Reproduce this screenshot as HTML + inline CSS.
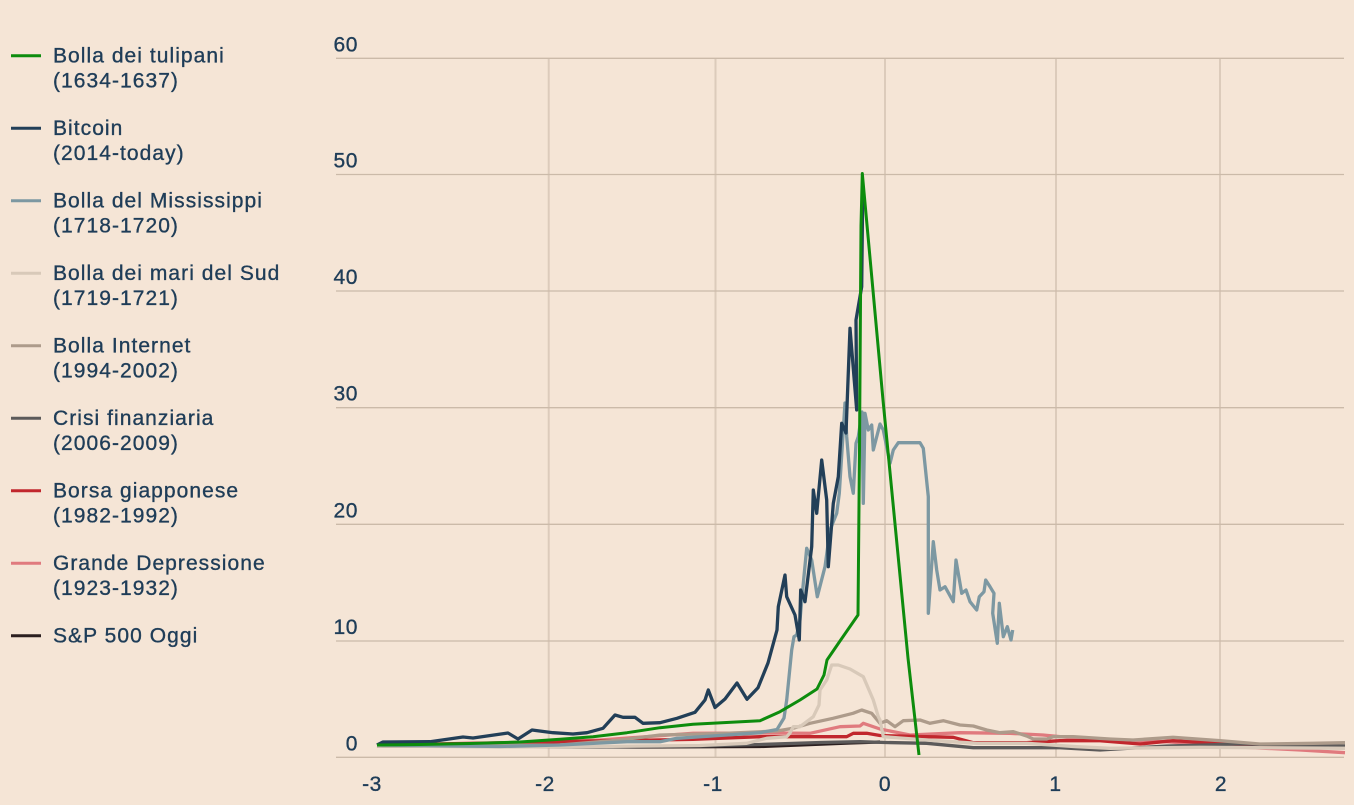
<!DOCTYPE html>
<html>
<head>
<meta charset="utf-8">
<style>
  html,body{margin:0;padding:0;background:#f5e5d6;}
  svg{display:block;}
  .leg{font-family:"Liberation Sans",sans-serif;font-size:21px;fill:#1f3d58;stroke:#1f3d58;stroke-width:0.35px;letter-spacing:1.05px;}
  .ax{font-family:"Liberation Sans",sans-serif;font-size:21px;fill:#1f3d58;stroke:#1f3d58;stroke-width:0.35px;letter-spacing:0.6px;}
</style>
</head>
<body>
<svg width="1354" height="805" viewBox="0 0 1354 805" xmlns="http://www.w3.org/2000/svg">
  <rect x="0" y="0" width="1354" height="805" fill="#f5e5d6"/>

  <!-- vertical gridlines -->
  <g stroke="#dccbbb" stroke-width="2">
    <line x1="548.7" y1="58" x2="548.7" y2="757"/>
    <line x1="715.5" y1="58" x2="715.5" y2="757"/>
    <line x1="885" y1="58" x2="885" y2="757"/>
    <line x1="1056" y1="58" x2="1056" y2="757"/>
    <line x1="1220" y1="58" x2="1220" y2="757"/>
  </g>
  <!-- horizontal gridlines -->
  <g stroke="#cbbaa9" stroke-width="1.3">
    <line x1="336" y1="58.3" x2="1344" y2="58.3"/>
    <line x1="336" y1="174.5" x2="1344" y2="174.5"/>
    <line x1="336" y1="291" x2="1344" y2="291"/>
    <line x1="336" y1="407.7" x2="1344" y2="407.7"/>
    <line x1="336" y1="524.3" x2="1344" y2="524.3"/>
    <line x1="336" y1="641" x2="1344" y2="641"/>
    <line x1="336" y1="757.3" x2="1344" y2="757.3"/>
  </g>

  <!-- y labels -->
  <g class="ax" text-anchor="end">
    <text x="358" y="51.5">60</text>
    <text x="358" y="167.7">50</text>
    <text x="358" y="284">40</text>
    <text x="358" y="400.7">30</text>
    <text x="358" y="517.3">20</text>
    <text x="358" y="634">10</text>
    <text x="358" y="750.3">0</text>
  </g>
  <!-- x labels -->
  <g class="ax" text-anchor="middle">
    <text x="372" y="791">-3</text>
    <text x="545" y="791">-2</text>
    <text x="713" y="791">-1</text>
    <text x="885" y="791">0</text>
    <text x="1055.5" y="791">1</text>
    <text x="1221" y="791">2</text>
  </g>

  <!-- series -->
  <g fill="none" stroke-linejoin="round" stroke-linecap="butt" stroke-width="3.3">
    <!-- S&P 500 Oggi -->
    <polyline stroke="#2b1f1f" points="377,746 640,747 760,746.5 800,745 850,743 880,742"/>
    <!-- Grande Depressione -->
    <polyline stroke="#e07a7e" points="377,745 500,744 600,740 693,733.3 760,733 810,733.3 840,726.7 860,726 863.3,723.3 880,729 910,735 960,732.7 1010,733.3 1043,735 1077,738.3 1110,740 1167,741.7 1233,746.7 1300,750 1345,752.7"/>
    <!-- Borsa giapponese -->
    <polyline stroke="#c1272d" points="377,745 560,741.7 693,739.3 760,736.7 810,736.7 846.7,736.7 853.3,733.3 866.7,733.3 880,735.5 926.7,736.7 953.3,737.3 973.3,742.7 1026.7,742.7 1060,740.7 1100,740.7 1140,744 1173,740.7 1220,743.3 1260,746 1300,746.5 1345,747"/>
    <!-- Crisi finanziaria -->
    <polyline stroke="#5c5a5a" points="377,746 600,747 700,746 760,744.5 820,742.5 860,741.7 885,742.5 926.7,743.3 973.3,747.7 1060,747.7 1100,750 1167,746 1240,744 1345,746"/>
    <!-- Bolla Internet -->
    <polyline stroke="#ad9b8b" points="377,746 560,745 620,740 660,735 727,733.3 777,731 793,728.3 810,723.3 833,718.3 853,713.3 861.7,710 871.7,713.3 880,723.3 886.7,720.7 895,726.7 903.3,720.7 920,720 930,723.3 943.3,720.7 960,725 973.3,726 986.7,730 1000,732.7 1013.3,731.7 1026.7,736 1033.3,739 1046.7,739 1053.3,736.7 1073.3,736.7 1110,739 1133,740 1173,737.3 1220,740.7 1260,744 1313,743.3 1345,742.7"/>
    <!-- Bolla dei mari del Sud -->
    <polyline stroke="#d8c9b9" points="377,746 500,747 600,746.5 700,745.5 746.7,743.3 766.7,738.3 786.7,736.7 790,733 793.3,726.7 800,726.7 813.3,716.7 819,705 820,690 826.7,680 831.7,665 838.3,665 850,669 863.3,676.7 873.3,700 878.3,716.7 880,720 883.3,736.7 926.7,740 976.7,743.3 1026.7,743.3 1076.7,746.7 1110,748.3 1200,747.3 1345,748.3"/>
    <!-- Bolla del Mississippi -->
    <polyline stroke="#7d98a2" points="377,745 450,746 500,746.5 560,745 627,741.7 660,741.7 677,738.3 727,735 760,732.7 777,729.5 784,718 786.7,700 791.7,650 794,636.7 796.7,635 800,620 803.3,583.3 806.7,548.3 811.7,560 817.3,596.7 825,566.7 830,530 836.7,513.3 839.3,493.3 845,403 846.7,436.7 850,476.7 853.3,493.3 856,443.3 858.3,436.7 862,412 863.3,503.3 865,413.3 868.3,430 871.7,425 873.3,450 880,424 883.3,430 890,463.3 893.3,450 898.3,442.7 920,442.7 923.3,448.3 928.3,496.7 928.3,613.3 933.3,541.7 936.7,570 940,590 945,586.7 953.3,601.7 956,560 961.7,593.3 966,590 970,601.7 976.7,610 979.3,596.7 984,591.7 985.7,580 990,586.7 994,593.3 992.7,613.3 997.3,643.3 999.3,603.3 1003.3,636.7 1007.3,626.7 1011,640 1012.7,630"/>
    <!-- Bitcoin -->
    <polyline stroke="#223f58" points="377,745 383,742 430,741.7 463,737 473,738 508,733 518,739 532,730 553,732.7 573,734 587,732.7 603,728.3 615,715 623,717.3 635,717.3 643,723.3 660,722.7 677,718.3 695,712.3 705,700 708.3,690 715,707.5 725,699 737,683 747,699.3 758,687.7 768,663 777,630 778.3,606.7 785,575 786.7,596.7 795,615 799.3,640 800.7,590 805,601.7 811.7,546.7 813.3,490 816.7,513.3 821.7,460 826.7,500 828.3,566.7 833.3,503.3 838.3,476.7 841.7,423.3 846,433 850,328.3 856.7,410 856,320 861.7,286.7 862.7,190"/>
    <!-- Bolla dei tulipani -->
    <polyline stroke="#0d8c0d" stroke-width="3" points="377,745 420,744.5 470,743.5 520,742 560,739.3 593,736.7 627,732.7 660,727.7 693,724.3 760,720.7 780,711.7 800,700 817,689 824,675 827,660 840,641 858,615 859.5,450 861,226 862.3,173.5 883,400 908,658 919,755"/>
  </g>

  <!-- legend -->
  <g stroke-width="3">
    <line x1="11" y1="55.7" x2="41" y2="55.7" stroke="#0d8c0d"/>
    <line x1="11" y1="128.2" x2="41" y2="128.2" stroke="#223f58"/>
    <line x1="11" y1="200.7" x2="41" y2="200.7" stroke="#7d98a2"/>
    <line x1="11" y1="273.2" x2="41" y2="273.2" stroke="#d8c9b9"/>
    <line x1="11" y1="345.7" x2="41" y2="345.7" stroke="#ad9b8b"/>
    <line x1="11" y1="418.2" x2="41" y2="418.2" stroke="#5c5a5a"/>
    <line x1="11" y1="490.7" x2="41" y2="490.7" stroke="#c1272d"/>
    <line x1="11" y1="563.2" x2="41" y2="563.2" stroke="#e07a7e"/>
    <line x1="11" y1="635.7" x2="41" y2="635.7" stroke="#2b1f1f"/>
  </g>
  <g class="leg">
    <text x="53" y="62.3">Bolla dei tulipani</text>
    <text x="53" y="87.3">(1634-1637)</text>
    <text x="53" y="134.8">Bitcoin</text>
    <text x="53" y="159.8">(2014-today)</text>
    <text x="53" y="207.3">Bolla del Mississippi</text>
    <text x="53" y="232.3">(1718-1720)</text>
    <text x="53" y="279.8">Bolla dei mari del Sud</text>
    <text x="53" y="304.8">(1719-1721)</text>
    <text x="53" y="352.3">Bolla Internet</text>
    <text x="53" y="377.3">(1994-2002)</text>
    <text x="53" y="424.8">Crisi finanziaria</text>
    <text x="53" y="449.8">(2006-2009)</text>
    <text x="53" y="497.3">Borsa giapponese</text>
    <text x="53" y="522.3">(1982-1992)</text>
    <text x="53" y="569.8">Grande Depressione</text>
    <text x="53" y="594.8">(1923-1932)</text>
    <text x="53" y="642.3">S&amp;P 500 Oggi</text>
  </g>
</svg>
</body>
</html>
